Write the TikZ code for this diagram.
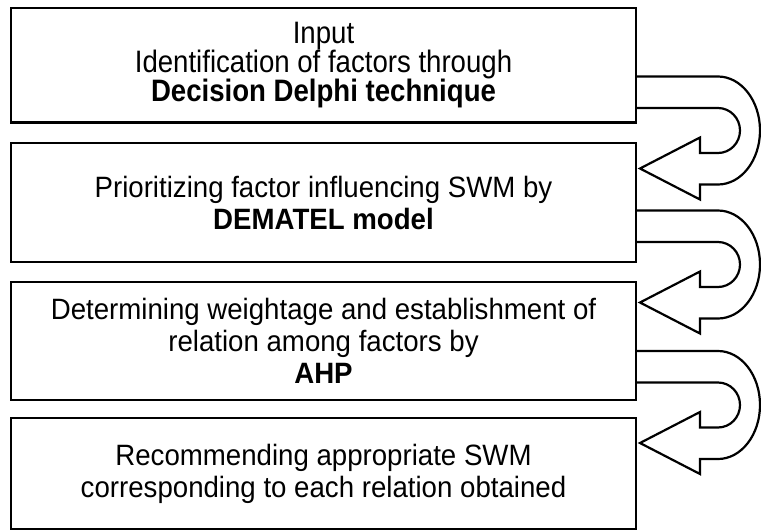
\documentclass[tikz,border=0pt]{standalone}
\usepackage{fontspec}
\setmainfont{Liberation Sans}[FakeStretch=0.89]
\newfontfamily\widerfont{Liberation Sans}[FakeStretch=0.94]
\begin{document}
\begin{tikzpicture}[x=1pt,y=-1pt,
  box/.style={draw=black, line width=2.4pt, rectangle, inner sep=0pt, align=center,
    minimum width=625pt, font=\widerfont\fontsize{29.4}{32}\selectfont},
  firstbox/.style={box, font=\rmfamily\fontsize{31}{29}\selectfont},
  uturn/.style={draw=black, line width=2.2pt, line join=miter}]
\useasboundingbox (0,0) rectangle (761,531);
\node[firstbox, minimum height=114.5pt] (b1) at (323.5,65.25)
  {Input\\Identification of factors through\\\textbf{Decision Delphi technique}};
\node[box, minimum height=119pt] (b2) at (323.5,202.5)
  {Prioritizing factor influencing SWM by\\\textbf{DEMATEL model}};
\node[box, minimum height=118pt] (b3) at (323.5,341)
  {Determining weightage and establishment of\\relation among factors by\\\textbf{AHP}};
\node[box, minimum height=111pt] (b4) at (323.5,473.5)
  {Recommending appropriate SWM\\corresponding to each relation obtained};
\newcommand{\myuturn}[2]{%
  \draw[uturn] (#1.east |- {(0,#2-54)}) -- (718,#2-54)
    arc[start angle=90, end angle=-90, x radius=42, y radius=-54]
    -- (700,#2+54) -- (700,#2+69) -- (640,#2+38) -- (700,#2+7) -- (700,#2+22.5)
    -- (718,#2+22.5)
    arc[start angle=-90, end angle=90, x radius=22, y radius=-22.5]
    -- (#1.east |- {(0,#2-22.5)});}
\myuturn{b1}{130.5}
\myuturn{b2}{264.5}
\myuturn{b3}{405}
\end{tikzpicture}
\end{document}
